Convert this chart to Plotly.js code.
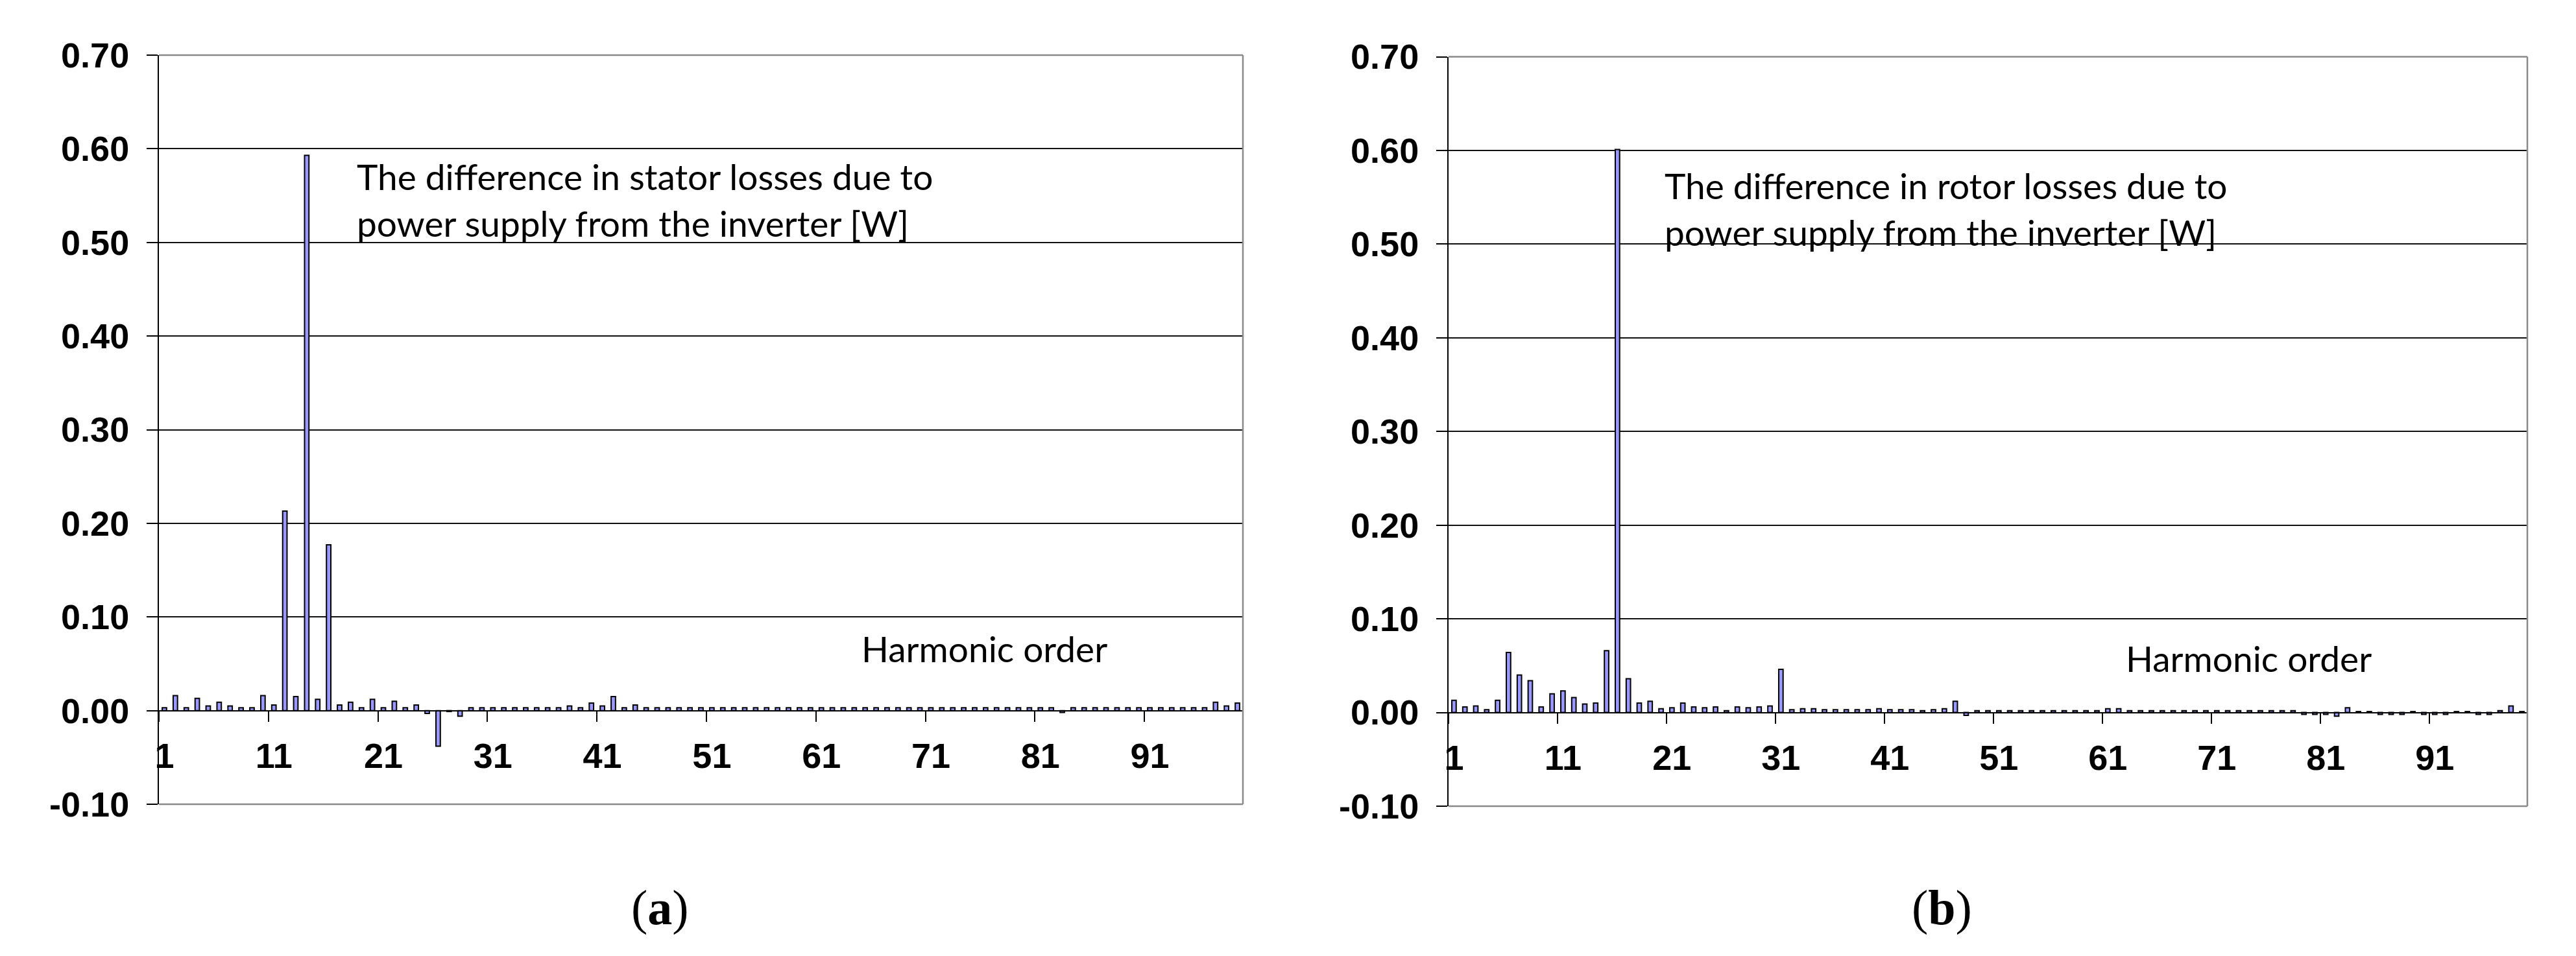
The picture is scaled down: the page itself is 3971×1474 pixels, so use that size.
<!DOCTYPE html>
<html>
<head>
<meta charset="utf-8">
<script src="https://cdn.plot.ly/plotly-3.0.1.min.js"></script>
<style>
html,body{margin:0;padding:0;background:#fff;}
#chart{width:3971px;height:1474px;}
</style>
</head>
<body>
<div id="chart"></div>
<script>
// ---------------- DATA ----------------
const harmonicOrder = [1,2,3,4,5,6,7,8,9,10,11,12,13,14,15,16,17,18,19,20,
  21,22,23,24,25,26,27,28,29,30,31,32,33,34,35,36,37,38,39,40,
  41,42,43,44,45,46,47,48,49,50,51,52,53,54,55,56,57,58,59,60,
  61,62,63,64,65,66,67,68,69,70,71,72,73,74,75,76,77,78,79,80,
  81,82,83,84,85,86,87,88,89,90,91,92,93,94,95,96,97,98,99];

// (a) difference in stator losses [W]
const statorLossDiff = [
  0.003,0.016,0.003,0.013,0.005,0.009,0.005,0.003,0.003,0.016,
  0.006,0.213,0.015,0.593,0.012,0.177,0.006,0.009,0.003,0.012,
  0.003,0.010,0.003,0.006,-0.003,-0.038,-0.001,-0.006,0.003,0.003,
  0.003,0.003,0.003,0.003,0.003,0.003,0.003,0.005,0.003,0.008,
  0.005,0.015,0.003,0.006,0.003,0.003,0.003,0.003,0.003,0.003,
  0.003,0.003,0.003,0.003,0.003,0.003,0.003,0.003,0.003,0.003,
  0.003,0.003,0.003,0.003,0.003,0.003,0.003,0.003,0.003,0.003,
  0.003,0.003,0.003,0.003,0.003,0.003,0.003,0.003,0.003,0.003,
  0.003,0.003,-0.002,0.003,0.003,0.003,0.003,0.003,0.003,0.003,
  0.003,0.003,0.003,0.003,0.003,0.003,0.009,0.005,0.008];

// (b) difference in rotor losses [W]
const rotorLossDiff = [
  0.013,0.006,0.007,0.003,0.013,0.064,0.040,0.034,0.006,0.020,
  0.023,0.016,0.009,0.010,0.066,0.601,0.036,0.010,0.012,0.004,
  0.005,0.010,0.006,0.005,0.006,0.002,0.006,0.005,0.006,0.007,
  0.046,0.003,0.004,0.004,0.003,0.003,0.003,0.003,0.003,0.004,
  0.003,0.003,0.003,0.002,0.003,0.004,0.012,-0.003,0.002,0.002,
  0.002,0.002,0.002,0.002,0.002,0.002,0.002,0.002,0.002,0.002,
  0.004,0.004,0.002,0.002,0.002,0.002,0.002,0.002,0.002,0.002,
  0.002,0.002,0.002,0.002,0.002,0.002,0.002,0.002,-0.002,-0.002,
  -0.002,-0.004,0.005,0.001,0.001,-0.002,-0.002,-0.002,0.001,-0.002,
  -0.002,-0.002,0.001,0.001,-0.002,-0.002,0.002,0.007,0.001];

const xTickVals = [1,11,21,31,41,51,61,71,81,91];
const xTickText = ['1','11','21','31','41','51','61','71','81','91'];
const yTickVals = [-0.1,0,0.1,0.2,0.3,0.4,0.5,0.6,0.7];
const yTickText = ['-0.10','0.00','0.10','0.20','0.30','0.40','0.50','0.60','0.70'];

const statorNote = 'The difference in stator losses due to<br>power supply from the inverter [W]';
const rotorNote  = 'The difference in rotor losses due to<br>power supply from the inverter [W]';
const xTitle = 'Harmonic order';

// ---------------- LAYOUT ----------------
const W = 3971, H = 1474;
const px = v => v / W;
const py = v => 1 - v / H;

const tickFont = {family: 'Liberation Sans, Arial, sans-serif', size: 54, color: '#000', weight: 'bold'};
const noteFont = {family: 'Lato, Carlito, Calibri, sans-serif', size: 55, color: '#000'};
const capFont  = {family: 'Liberation Serif, Times New Roman, serif', size: 76, color: '#000'};
const minorMarks = [0.5,10.5,20.5,30.5,40.5,50.5,60.5,70.5,80.5,90.5,99.5];

function makeX(dom, pos) {
  return {
    domain: dom, range: [0.5, 99.5], type: 'linear',
    anchor: 'free', position: pos,
    showline: true, linecolor: '#000', linewidth: 2.5,
    showgrid: false, zeroline: false,
    tickmode: 'array', tickvals: xTickVals, ticktext: xTickText,
    ticks: '', tickfont: tickFont, ticklabelstandoff: 22,
    minor: {tickmode: 'array', tickvals: minorMarks, ticks: 'outside',
            ticklen: 16, tickwidth: 2, tickcolor: '#000', showgrid: false},
    fixedrange: true
  };
}
function makeY(dom, anchorX) {
  return {
    domain: dom, range: [-0.1, 0.7], anchor: anchorX,
    tickmode: 'array', tickvals: yTickVals, ticktext: yTickText,
    ticks: 'outside', ticklen: 17, tickwidth: 2, tickcolor: '#000',
    showline: true, linecolor: '#000', linewidth: 2,
    showgrid: true, gridcolor: '#111', gridwidth: 2,
    zeroline: false, tickfont: tickFont, ticklabelstandoff: 16,
    fixedrange: true
  };
}

const yDomA = [py(1240), py(85)];
const yDomB = [py(1243), py(87.5)];
const posA = yDomA[0] + 0.125 * (yDomA[1] - yDomA[0]);
const posB = yDomB[0] + 0.125 * (yDomB[1] - yDomB[0]);

function border(xr, yr) {
  const ln = {color: '#8a8a8a', width: 2.5};
  return [
    {type: 'line', xref: xr + ' domain', yref: yr + ' domain', x0: 0, x1: 1, y0: 1, y1: 1, line: ln, layer: 'above'},
    {type: 'line', xref: xr + ' domain', yref: yr + ' domain', x0: 1, x1: 1, y0: 0, y1: 1, line: ln, layer: 'above'},
    {type: 'line', xref: xr + ' domain', yref: yr + ' domain', x0: 0, x1: 1, y0: 0, y1: 0, line: ln, layer: 'above'}
  ];
}

const barStyle = {color: '#9999ff', line: {color: '#000', width: 2}};

const data = [
  {type: 'bar', x: harmonicOrder, y: statorLossDiff, xaxis: 'x', yaxis: 'y',
   width: 0.4, marker: barStyle, hoverinfo: 'skip'},
  {type: 'bar', x: harmonicOrder, y: rotorLossDiff, xaxis: 'x2', yaxis: 'y2',
   width: 0.4, marker: barStyle, hoverinfo: 'skip'}
];

const layout = {
  width: W, height: H,
  margin: {l: 0, r: 0, t: 0, b: 0},
  paper_bgcolor: '#fff', plot_bgcolor: '#fff',
  showlegend: false,
  xaxis: makeX([px(245), px(1916)], posA),
  yaxis: makeY(yDomA, 'x'),
  xaxis2: makeX([px(2233), px(3896)], posB),
  yaxis2: makeY(yDomB, 'x2'),
  shapes: border('x', 'y').concat(border('x2', 'y2')),
  annotations: [
    {xref: 'paper', yref: 'paper', x: px(548), y: py(308), xanchor: 'left', yanchor: 'middle',
     text: statorNote, showarrow: false, align: 'left', font: noteFont},
    {xref: 'paper', yref: 'paper', x: px(2564), y: py(322), xanchor: 'left', yanchor: 'middle',
     text: rotorNote, showarrow: false, align: 'left', font: noteFont},
    {xref: 'paper', yref: 'paper', x: px(1326), y: py(1000), xanchor: 'left', yanchor: 'middle',
     text: xTitle, showarrow: false, font: noteFont},
    {xref: 'paper', yref: 'paper', x: px(3275), y: py(1015), xanchor: 'left', yanchor: 'middle',
     text: xTitle, showarrow: false, font: noteFont},
    {xref: 'paper', yref: 'paper', x: px(1017), y: py(1399), xanchor: 'center', yanchor: 'middle',
     text: '(<b>a</b>)', showarrow: false, font: capFont},
    {xref: 'paper', yref: 'paper', x: px(2993), y: py(1399), xanchor: 'center', yanchor: 'middle',
     text: '(<b>b</b>)', showarrow: false, font: capFont}
  ]
};

Plotly.newPlot('chart', data, layout, {staticPlot: true, displayModeBar: false});
</script>
</body>
</html>
